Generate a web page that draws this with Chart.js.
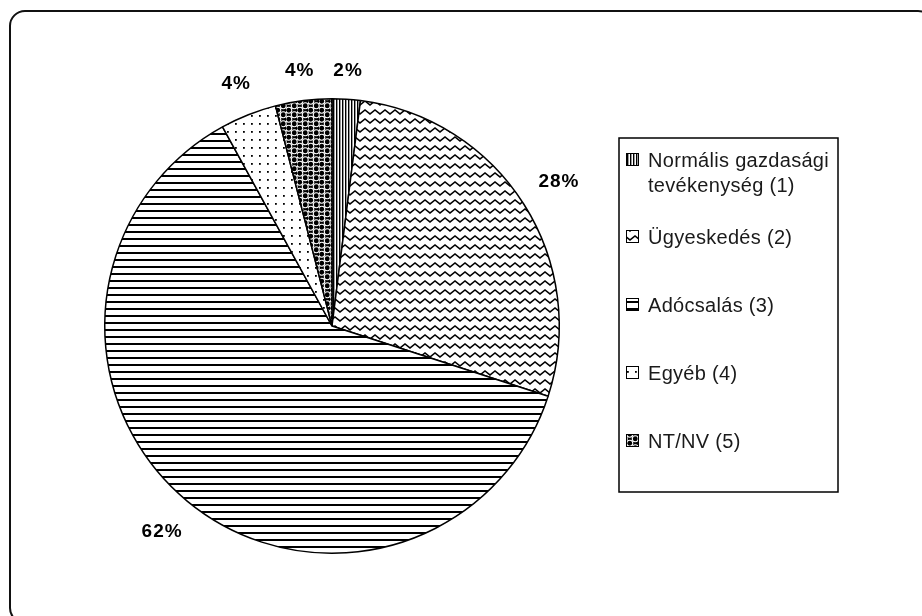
<!DOCTYPE html>
<html lang="hu">
<head>
    <meta charset="UTF-8">
    <title>Megoszlás</title>
    <script src="https://cdn.jsdelivr.net/npm/chart.js"></script>
    <style>
        body {
            margin: 0;
            background: #fff;
            overflow: hidden;
        }
        #wrap {
            position: relative;
            width: 922px;
            height: 616px;
            overflow: hidden;
        }
        .frame {
            position: absolute;
            left: 9px;
            top: 10px;
            width: 925px;
            height: 614px;
            box-sizing: border-box;
            border: 2px solid #111;
            border-radius: 16px;
        }
        canvas {
            position: absolute;
            left: 0;
            top: 0;
        }
    </style>
</head>
<body>
<div id="wrap">
    <div class="frame"></div>
    <canvas id="pieChart" width="922" height="616"></canvas>
</div>

<script>
    const categories = ['Normális gazdasági tevékenység (1)', 'Ügyeskedés (2)', 'Adócsalás (3)', 'Egyéb (4)', 'NT/NV (5)'];
    const shares = [2, 28, 62, 4, 4];
    const valueLabels = ['2%', '28%', '62%', '4%', '4%'];

    // black & white fill patterns, one per slice
    function makePattern(w, h, paint) {
        const c = document.createElement('canvas');
        c.width = w;
        c.height = h;
        const g = c.getContext('2d');
        g.fillStyle = '#fff';
        g.fillRect(0, 0, w, h);
        g.fillStyle = '#000';
        g.strokeStyle = '#000';
        paint(g, w, h);
        return document.createElement('canvas').getContext('2d').createPattern(c, 'repeat');
    }

    const ballSpots = [[2.75, 2.25], [8.25, 6.75], [-2.75, 6.75], [13.75, 6.75], [2.75, 11.25], [8.25, -2.25]];

    const patterns = [
        // vertical stripes
        makePattern(3, 3, (g) => { g.fillRect(0, 0, 1.4, 3); }),
        // zigzag
        makePattern(10, 9, (g) => {
            g.lineWidth = 1.6;
            g.beginPath();
            g.moveTo(-2.5, 3.5);
            g.lineTo(0, 6);
            g.lineTo(5, 2);
            g.lineTo(10, 6);
            g.lineTo(12.5, 3.5);
            g.stroke();
        }),
        // horizontal lines
        makePattern(7, 7, (g) => { g.fillRect(0, 0, 7, 2); }),
        // sparse dots
        makePattern(8, 8, (g) => { g.fillRect(3, 3, 1.8, 1.8); }),
        // black balls
        makePattern(11, 9, (g) => {
            g.fillRect(0, 0, 11, 9);
            g.fillStyle = '#fff';
            ballSpots.forEach(([x, y]) => {
                g.beginPath();
                g.arc(x, y, 3.5, 0, Math.PI * 2);
                g.fill();
            });
            g.fillStyle = '#000';
            ballSpots.forEach(([x, y]) => {
                g.beginPath();
                g.arc(x, y, 2.4, 0, Math.PI * 2);
                g.fill();
            });
        })
    ];

    const sliceLabels = {
        id: 'sliceLabels',
        afterDatasetsDraw(chart) {
            const ctx = chart.ctx;
            const meta = chart.getDatasetMeta(0);
            ctx.save();
            ctx.font = 'bold 19px "Liberation Sans", Arial, sans-serif';
            ctx.letterSpacing = '1px';
            ctx.fillStyle = '#000';
            ctx.textAlign = 'center';
            ctx.textBaseline = 'middle';
            meta.data.forEach((arc, i) => {
                const p = arc.getProps(['x', 'y', 'startAngle', 'endAngle', 'outerRadius'], true);
                const mid = (p.startAngle + p.endAngle) / 2;
                const text = valueLabels[i];
                const w = ctx.measureText(text).width;
                const cos = Math.cos(mid), sin = Math.sin(mid);
                const r = p.outerRadius + 20 + Math.abs(cos) * w / 2 + Math.abs(sin) * 8;
                ctx.fillText(text, p.x + cos * r, p.y + sin * r);
            });
            ctx.restore();
        }
    };

    function wrapText(ctx, text, maxWidth) {
        const words = text.split(' ');
        const lines = [];
        let line = '';
        words.forEach(word => {
            const test = line ? line + ' ' + word : word;
            if (line && ctx.measureText(test).width > maxWidth) {
                lines.push(line);
                line = word;
            } else {
                line = test;
            }
        });
        lines.push(line);
        return lines;
    }

    const boxLegend = {
        id: 'boxLegend',
        afterDraw(chart) {
            const ctx = chart.ctx;
            const left = chart.chartArea.right + 59;
            const top = 138;
            const width = 219;
            const height = 354;
            ctx.save();
            ctx.strokeStyle = '#000';
            ctx.lineWidth = 1.5;
            ctx.strokeRect(left, top, width, height);
            ctx.font = '20px "Liberation Sans", Arial, sans-serif';
            ctx.letterSpacing = '0.3px';
            ctx.textBaseline = 'middle';
            categories.forEach((name, i) => {
                const lines = wrapText(ctx, name, width - 32);
                const y = i === 0 ? top + 22 : top + 99 + (i - 1) * 68;
                ctx.fillStyle = patterns[i];
                ctx.fillRect(left + 7, y - 7, 13, 13);
                ctx.lineWidth = 1;
                ctx.strokeRect(left + 7.5, y - 6.5, 12, 12);
                ctx.fillStyle = '#1a1a1a';
                lines.forEach((ln, j) => ctx.fillText(ln, left + 29, y + 1 + j * 25));
            });
            ctx.restore();
        }
    };

    new Chart(document.getElementById('pieChart'), {
        type: 'pie',
        data: {
            labels: categories,
            datasets: [{
                data: shares,
                backgroundColor: patterns,
                borderColor: '#000',
                borderWidth: 1.5
            }]
        },
        options: {
            responsive: false,
            animation: false,
            layout: {
                padding: { left: 104, top: 98, right: 362, bottom: 62 }
            },
            plugins: {
                legend: { display: false },
                tooltip: { enabled: false }
            }
        },
        plugins: [sliceLabels, boxLegend]
    });
</script>
</body>
</html>
